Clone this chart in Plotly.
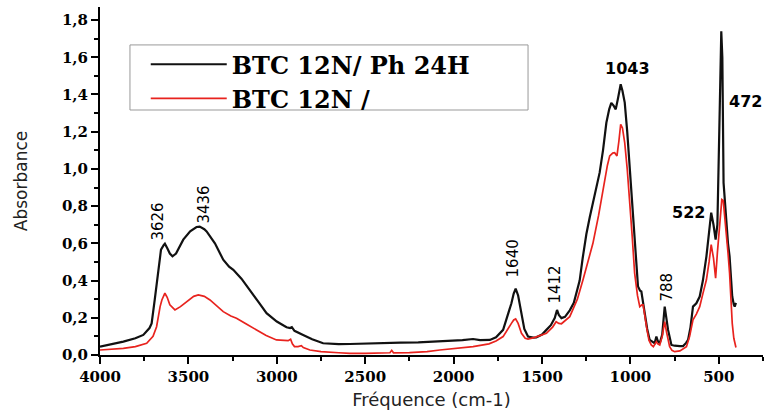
import plotly.graph_objects as go

# Black spectrum: BTC 12N/ Ph 24H
wn_black = [4000, 3950, 3900, 3868, 3800, 3755, 3720, 3708, 3690, 3680, 3665, 3655, 3640, 3633, 3620,
            3605, 3590, 3570, 3529, 3490, 3454, 3436, 3410, 3397, 3350, 3303, 3270, 3246, 3200, 3152,
            3100, 3058, 3000, 2945, 2925, 2915, 2900, 2851, 2800, 2738, 2650, 2587, 2500, 2400, 2300,
            2200, 2100, 2078, 2000, 1950, 1890, 1850, 1795, 1760, 1720, 1690, 1673, 1660, 1649, 1635,
            1616, 1600, 1579, 1550, 1532, 1500, 1475, 1450, 1428, 1415, 1405, 1390, 1370, 1343, 1320,
            1287, 1270, 1249, 1230, 1212, 1190, 1174, 1155, 1136, 1120, 1108, 1095, 1083, 1070, 1055,
            1045, 1032, 1018, 1004, 990, 976, 965, 957, 945, 938, 928, 919, 905, 891, 875, 863,
            853, 845, 834, 820, 806, 795, 787, 768, 750, 720, 702, 685, 674, 660, 646, 627,
            615, 608, 590, 570, 555, 543, 530, 518, 508, 500, 492, 486, 480, 473, 465, 458,
            448, 439, 430, 424, 415, 410, 403]
abs_black = [0.045, 0.055, 0.065, 0.072, 0.090, 0.108, 0.145, 0.170, 0.300, 0.386, 0.500, 0.566, 0.590, 0.598, 0.575,
             0.545, 0.530, 0.545, 0.620, 0.665, 0.688, 0.690, 0.676, 0.664, 0.600, 0.512, 0.475, 0.458, 0.410, 0.350,
             0.280, 0.225, 0.180, 0.149, 0.145, 0.150, 0.130, 0.108, 0.085, 0.063, 0.058, 0.059, 0.060, 0.063, 0.066,
             0.068, 0.072, 0.075, 0.078, 0.080, 0.086, 0.080, 0.081, 0.095, 0.135, 0.220, 0.278, 0.330, 0.356, 0.320,
             0.225, 0.140, 0.099, 0.093, 0.095, 0.110, 0.135, 0.160, 0.198, 0.242, 0.215, 0.198, 0.205, 0.240, 0.280,
             0.400, 0.520, 0.650, 0.740, 0.817, 0.900, 0.980, 1.100, 1.248, 1.320, 1.355, 1.340, 1.320, 1.380, 1.455,
             1.420, 1.356, 1.200, 1.015, 0.820, 0.620, 0.450, 0.368, 0.345, 0.341, 0.280, 0.225, 0.140, 0.081, 0.068, 0.063,
             0.099, 0.075, 0.063, 0.110, 0.260, 0.180, 0.135, 0.054, 0.050, 0.048, 0.048, 0.065, 0.081, 0.150, 0.260, 0.278,
             0.300, 0.314, 0.400, 0.530, 0.660, 0.765, 0.700, 0.620, 0.700, 1.015, 1.450, 1.740, 1.600, 0.925, 0.800, 0.727,
             0.600, 0.530, 0.400, 0.314, 0.270, 0.260, 0.280]

# Red spectrum: BTC 12N /
wn_red = [4000, 3900, 3868, 3800, 3736, 3700, 3680, 3660, 3650, 3633, 3620, 3605, 3576, 3545, 3510,
          3470, 3444, 3410, 3378, 3340, 3303, 3260, 3228, 3170, 3115, 3060, 3002, 2960, 2936, 2922,
          2912, 2900, 2880, 2861, 2850, 2813, 2750, 2650, 2587, 2500, 2400, 2360, 2350, 2340, 2250,
          2150, 2078, 2000, 1890, 1800, 1760, 1720, 1690, 1673, 1660, 1649, 1635, 1616, 1595, 1579,
          1540, 1500, 1475, 1440, 1420, 1405, 1390, 1343, 1300, 1268, 1240, 1212, 1180, 1155, 1130,
          1117, 1100, 1089, 1076, 1065, 1055, 1045, 1032, 1018, 1004, 990, 976, 960, 947, 935,
          928, 918, 906, 895, 882, 870, 853, 845, 834, 820, 806, 795, 778, 765, 750,
          720, 700, 683, 665, 646, 627, 608, 590, 570, 555, 543, 530, 518, 508, 495,
          483, 475, 465, 458, 448, 439, 430, 424, 415, 410, 403]
abs_red = [0.027, 0.034, 0.036, 0.045, 0.063, 0.100, 0.152, 0.260, 0.296, 0.332, 0.310, 0.270, 0.242, 0.260, 0.287,
           0.315, 0.323, 0.315, 0.296, 0.265, 0.233, 0.210, 0.198, 0.165, 0.135, 0.105, 0.081, 0.077, 0.077, 0.085,
           0.060, 0.045, 0.045, 0.050, 0.040, 0.027, 0.018, 0.012, 0.009, 0.009, 0.010, 0.012, 0.025, 0.012, 0.013,
           0.018, 0.027, 0.035, 0.045, 0.060, 0.075, 0.099, 0.140, 0.170, 0.188, 0.194, 0.170, 0.117, 0.090, 0.085,
           0.095, 0.110, 0.117, 0.150, 0.179, 0.170, 0.168, 0.206, 0.300, 0.404, 0.500, 0.600, 0.750, 0.889, 1.020,
           1.070, 1.085, 1.087, 1.070, 1.150, 1.240, 1.220, 1.140, 1.000, 0.835, 0.640, 0.440, 0.320, 0.260, 0.270,
           0.270, 0.200, 0.135, 0.080, 0.054, 0.045, 0.072, 0.060, 0.054, 0.100, 0.179, 0.120, 0.045, 0.025, 0.018,
           0.022, 0.035, 0.045, 0.100, 0.189, 0.220, 0.260, 0.330, 0.404, 0.500, 0.593, 0.520, 0.413, 0.550, 0.710,
           0.835, 0.830, 0.740, 0.656, 0.550, 0.440, 0.280, 0.170, 0.090, 0.063, 0.040]

series_names = ["BTC 12N/ Ph 24H", "BTC 12N /"]

x_tickvals = [4000, 3500, 3000, 2500, 2000, 1500, 1000, 500]
y_tickvals = [0.0, 0.2, 0.4, 0.6, 0.8, 1.0, 1.2, 1.4, 1.6, 1.8]
y_ticktext = ["0,0", "0,2", "0,4", "0,6", "0,8", "1,0", "1,2", "1,4", "1,6", "1,8"]

# peak labels: (text, x, y, angle)
peak_labels = [("3626", 3672, 0.717, -90), ("3436", 3412, 0.808, -90), ("1640", 1665, 0.518, -90),
               ("1412", 1428, 0.377, -90), ("788", 795, 0.366, -90), ("1043", 1015, 1.541, 0),
               ("522", 670, 0.765, 0), ("472", 348, 1.363, 0)]

fig = go.Figure()
fig.add_trace(go.Scatter(x=wn_black, y=abs_black, mode="lines", name=series_names[0],
                         line=dict(color="#111111", width=2.2)))
fig.add_trace(go.Scatter(x=wn_red, y=abs_red, mode="lines", name=series_names[1],
                         line=dict(color="#e8231e", width=1.7)))

for txt, px, py, ang in peak_labels:
    if ang == 0:
        fig.add_annotation(x=px, y=py, text=txt, showarrow=False, textangle=0,
                           font=dict(family="DejaVu Sans", size=16, color="black", weight="bold"))
    else:
        fig.add_annotation(x=px, y=py, text=txt, showarrow=False, textangle=-90,
                           font=dict(family="DejaVu Sans", size=15, color="black"))

axis_common = dict(showline=True, linecolor="black", linewidth=2, ticks="outside", tickcolor="black",
                   tickwidth=2, ticklen=7, showgrid=False, zeroline=False, mirror=False,
                   tickfont=dict(family="DejaVu Serif", size=15, color="black", weight="bold"))

fig.update_xaxes(range=[4000, 250], tickmode="array", tickvals=x_tickvals,
                 minor=dict(tickmode="linear", tick0=0, dtick=250, ticks="outside", ticklen=4,
                            tickcolor="black", tickwidth=2),
                 title=dict(text="Fréquence (cm-1)", standoff=8,
                            font=dict(family="DejaVu Sans", size=18, color="#222")),
                 **axis_common)
fig.update_yaxes(range=[0, 1.87], tickmode="array", tickvals=y_tickvals, ticktext=y_ticktext,
                 minor=dict(tickmode="linear", tick0=0, dtick=0.1, ticks="outside", ticklen=4,
                            tickcolor="black", tickwidth=2),
                 title=dict(text="Absorbance", standoff=30,
                            font=dict(family="DejaVu Sans", size=17, color="#222")),
                 **axis_common)

# legend frame (decoration behind the native legend)
fig.add_shape(type="rect", xref="paper", yref="paper", x0=0.0452, x1=0.6456, y0=0.704, y1=0.891,
              line=dict(color="#999999", width=1), fillcolor="white", layer="above")

fig.update_layout(
    width=767, height=415,
    margin=dict(l=100, r=4, t=7, b=60),
    paper_bgcolor="white", plot_bgcolor="white",
    showlegend=True,
    legend=dict(x=0.069, y=0.899, xanchor="left", yanchor="top",
                borderwidth=0, bgcolor="rgba(0,0,0,0)",
                itemwidth=76, tracegroupgap=0,
                font=dict(family="DejaVu Serif", size=24, color="black", weight="bold")),
)

fig.write_html("out.html")
